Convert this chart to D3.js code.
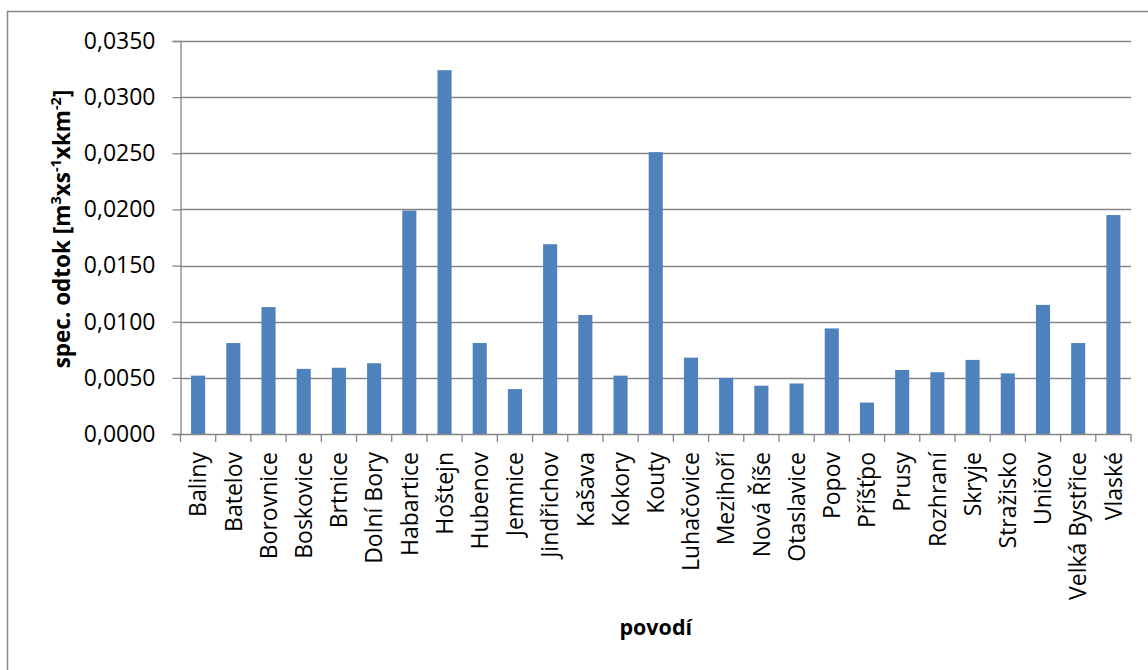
<!DOCTYPE html>
<html><head><meta charset="utf-8">
<script src="https://cdn.jsdelivr.net/npm/d3@7"></script>
<style>
html,body{margin:0;padding:0;background:#fff;}
svg{display:block;}
</style></head>
<body>
<svg id="c" width="1148" height="670"></svg>
<script>
const categories = ["Baliny","Batelov","Borovnice","Boskovice","Brtnice","Dolní Bory","Habartice","Hoštejn","Hubenov","Jemnice","Jindřichov","Kašava","Kokory","Kouty","Luhačovice","Mezihoří","Nová Říše","Otaslavice","Popov","Příšťpo","Prusy","Rozhraní","Skryje","Stražisko","Uničov","Velká Bystřice","Vlaské"];
const values = [0.0052,0.0081,0.0113,0.0058,0.0059,0.0063,0.0199,0.0324,0.0081,0.0040,0.0169,0.0106,0.0052,0.0251,0.0068,0.0050,0.0043,0.0045,0.0094,0.0028,0.0057,0.0055,0.0066,0.0054,0.0115,0.0081,0.0195];
const yTicks = [0,0.005,0.01,0.015,0.02,0.025,0.03,0.035];
const xTitle = "povodí";

const svg = d3.select("#c");
const font = "'Open Sans', sans-serif";
const L = 180.5, R = 1131, T = 41, B = 434;
const gridCol = "#868686";

// outer chart border
svg.append("rect").attr("x",7.5).attr("y",11.5).attr("width",1200).attr("height",800)
  .attr("fill","none").attr("stroke","#888").attr("stroke-width",1.5);

const x = d3.scaleBand().domain(categories).range([L,R]).paddingInner(0.6).paddingOuter(0.3);
const y = d3.scaleLinear().domain([0,0.035]).range([B,T]);

// gridlines
svg.append("g").selectAll("line").data(yTicks.slice(1)).join("line")
  .attr("x1",L).attr("x2",R).attr("y1",d=>Math.round(y(d))+0.5).attr("y2",d=>Math.round(y(d))+0.5)
  .attr("stroke",gridCol).attr("stroke-width",1.3);

// bars
svg.append("g").selectAll("rect").data(values).join("rect")
  .attr("x",(d,i)=>x(categories[i])).attr("width",x.bandwidth())
  .attr("y",d=>y(d)).attr("height",d=>B-y(d))
  .attr("fill","#4F81BD");

// y axis
const fmt = d => d.toFixed(4).replace(".",",");
const yAxis = svg.append("g").attr("transform",`translate(${L},0)`)
  .call(d3.axisLeft(y).tickValues(yTicks).tickFormat(fmt).tickSize(8).tickPadding(17));
yAxis.select(".domain").attr("stroke",gridCol).attr("stroke-width",1.3);
yAxis.selectAll(".tick line").attr("stroke",gridCol).attr("stroke-width",1.3);
yAxis.selectAll(".tick text").attr("font-family",font).attr("font-size",23).attr("fill","#000");

// x axis
const step = x.step();
const xAxisG = svg.append("g").attr("transform",`translate(0,${B})`);
xAxisG.append("line").attr("x1",L).attr("x2",R).attr("y1",0.5).attr("y2",0.5).attr("stroke",gridCol).attr("stroke-width",1.3);
const tickPos = d3.range(categories.length+1).map(i=>L+i*step);
xAxisG.selectAll("line.tk").data(tickPos).join("line").attr("class","tk")
  .attr("x1",d=>d).attr("x2",d=>d).attr("y1",0).attr("y2",8).attr("stroke",gridCol).attr("stroke-width",1.3);
xAxisG.selectAll("text").data(categories).join("text")
  .attr("transform",d=>`translate(${x(d)+x.bandwidth()/2},18) rotate(-90)`)
  .attr("text-anchor","end").attr("dy","0.36em")
  .attr("font-family",font).attr("font-size",23).attr("fill","#000")
  .text(d=>d);

// axis titles
svg.append("text").attr("x",(L+R)/2).attr("y",635).attr("text-anchor","middle")
  .attr("font-family",font).attr("font-size",21.5).attr("font-weight","bold").text(xTitle);

const yt = svg.append("text").attr("transform",`translate(70,229) rotate(-90)`)
  .attr("text-anchor","middle").attr("font-family",font).attr("font-size",22.5).attr("font-weight","bold");
yt.append("tspan").text("spec. odtok [m");
yt.append("tspan").attr("font-size",14.5).attr("dy",-9).text("3");
yt.append("tspan").attr("dy",9).text("xs");
yt.append("tspan").attr("font-size",14.5).attr("dy",-9).text("-1");
yt.append("tspan").attr("dy",9).text("xkm");
yt.append("tspan").attr("font-size",14.5).attr("dy",-9).text("-2");
yt.append("tspan").attr("dy",9).text("]");
</script>
</body></html>
